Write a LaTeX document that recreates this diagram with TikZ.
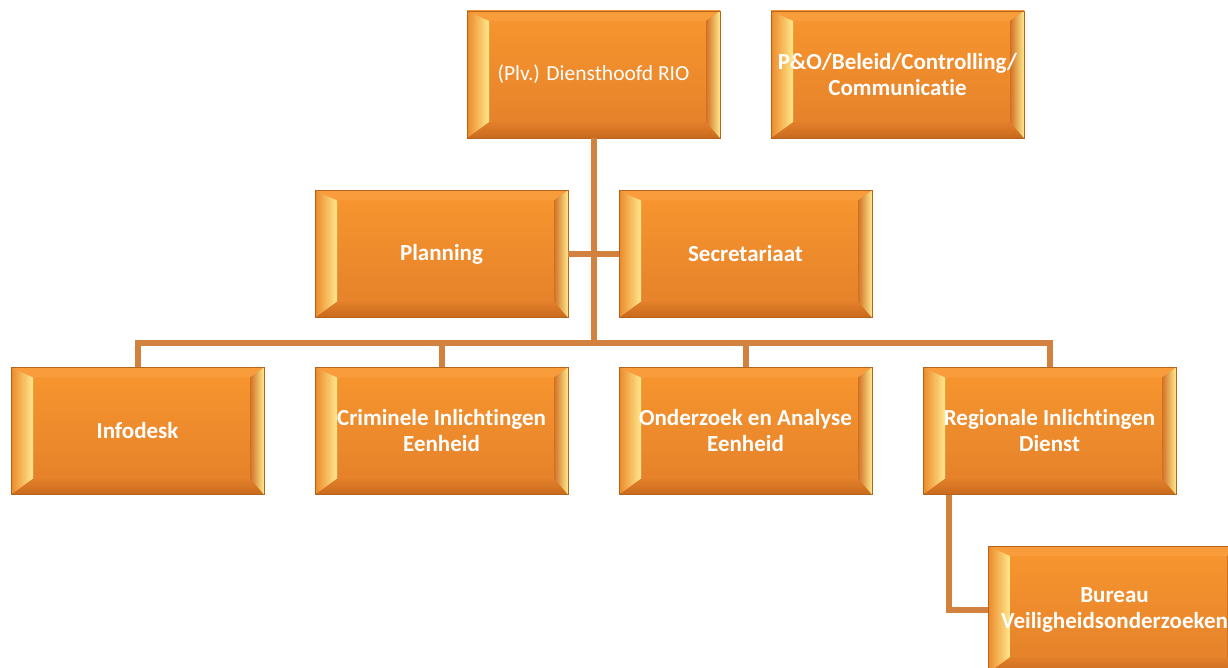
\documentclass[tikz,border=0pt]{standalone}
\usepackage{fontspec}
\setmainfont[Ligatures={NoCommon}]{Carlito}
\usetikzlibrary{calc}
\definecolor{conncol}{HTML}{D3813F}
\definecolor{edgecol}{HTML}{B5641E}
\definecolor{facetop}{HTML}{F8962F}
\definecolor{facebot}{HTML}{E3802A}
\definecolor{bevyel}{HTML}{FFE98C}
\definecolor{bevorg}{HTML}{EC8829}
\definecolor{bevdark}{HTML}{D27024}
\definecolor{bevtop}{HTML}{F99C3C}
\definecolor{bevbot}{HTML}{C8691D}
\tikzset{
  orgbox/.style={
    minimum width=253pt, minimum height=127pt, inner sep=0pt,
    draw=edgecol, line width=0.8pt, top color=facetop, bottom color=facebot,
    text=white, align=center, font=\fontsize{23}{26}\selectfont\bfseries,
    path picture={%
      \path (path picture bounding box.north west) coordinate (pA)
            (path picture bounding box.north east) coordinate (pB)
            (path picture bounding box.south east) coordinate (pC)
            (path picture bounding box.south west) coordinate (pD);
      \path ($(pA)+(22,10)$) coordinate (pa)
            ($(pB)+(-14,10)$) coordinate (pb)
            ($(pC)+(-14,-16)$) coordinate (pc)
            ($(pD)+(22,-16)$) coordinate (pd);
      \fill[bevtop] (pA) -- (pB) -- (pb) -- (pa) -- cycle;
      \shade[top color=facebot, bottom color=bevbot] (pD) -- (pd) -- (pc) -- (pC) -- cycle;
      \shade[left color=bevorg, right color=bevyel] (pA) -- (pa) -- (pd) -- (pD) -- cycle;
      \shade[left color=bevdark, right color=bevyel] (pB) -- (pb) -- (pc) -- (pC) -- cycle;
    }
  },
  conn/.style={draw=conncol, line width=6pt}
}
\begin{document}
\begin{tikzpicture}[x=1pt,y=-1pt]
\useasboundingbox (0,0) rectangle (1228,668);
\clip (0,0) rectangle (1228,668);
\coordinate (bus) at (593.5,343);
\node[orgbox, font=\fontsize{21.5}{25}\selectfont] (top) at (593.5,74.5) {(Plv.) Diensthoofd RIO};
\node[orgbox] (po) at (897.5,74.5) {P\&O/Beleid/Controlling/\\Communicatie};
\node[orgbox] (plan) at (441.5,254) {Planning};
\node[orgbox] (secr) at (745.5,254) {Secretariaat};
\node[orgbox] (info) at (137.5,431) {Infodesk};
\node[orgbox] (crim) at (441.5,431) {Criminele Inlichtingen\\Eenheid};
\node[orgbox] (onder) at (745.5,431) {Onderzoek en Analyse\\Eenheid};
\node[orgbox] (regio) at (1049.5,431) {Regionale Inlichtingen\\Dienst};
\node[orgbox] (bureau) at (1114.5,609.5) {Bureau\\Veiligheidsonderzoeken};
\draw[conn] (top.south) -- (bus);
\draw[conn] (plan.east) -- (secr.west);
\draw[conn] (info.north) |- (bus) -| (regio.north);
\draw[conn] (crim.north) -- (crim.north |- bus);
\draw[conn] (onder.north) -- (onder.north |- bus);
\draw[conn] ([xshift=26pt]regio.south west) |- (bureau.west);
\end{tikzpicture}
\end{document}
